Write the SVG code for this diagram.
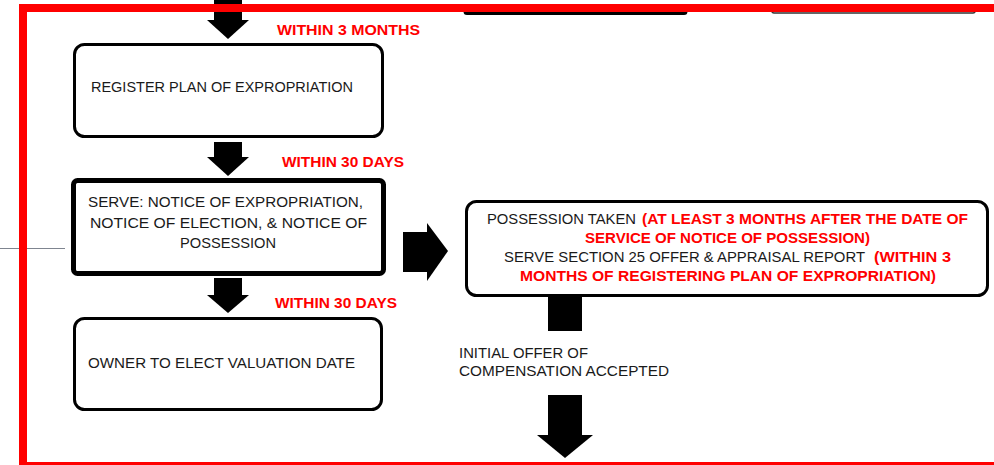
<svg xmlns="http://www.w3.org/2000/svg" width="994" height="465" viewBox="0 0 994 465">
  <style>
    .box { fill: #ffffff; stroke: #000000; stroke-width: 3; }
    .box-heavy { fill: #ffffff; stroke: #000000; stroke-width: 5; }
    .txt { font-family: "Liberation Sans", Arial, sans-serif; font-size: 15.5px; fill: #1a1a1a; }
    .due { font-family: "Liberation Sans", Arial, sans-serif; font-size: 15.5px; font-weight: bold; fill: #ff0000; }
    .arrow { fill: #000000; stroke: none; }
    .frame { fill: none; stroke: #ff0000; stroke-width: 8; }
  </style>

  <rect width="994" height="465" fill="#ffffff"/>

  <!-- side guide line -->
  <line x1="0" y1="248.5" x2="65" y2="248.5" stroke="#7f8590" stroke-width="1"/>

  <!-- boxes continuing from the previous stage (only bottoms visible) -->
  <g id="upper-left-box">
    <rect x="465" y="6" width="221" height="7.5" rx="2" fill="#ffffff" stroke="#000000" stroke-width="3"/>
  </g>
  <g id="upper-right-box">
    <rect x="772" y="6" width="203" height="7" rx="2" fill="#ffffff" stroke="#333333" stroke-width="1.5"/>
  </g>

  <!-- connectors -->
  <g id="connectors">
    <!-- into register plan -->
    <rect class="arrow" x="214" y="0" width="28" height="21"/>
    <polygon class="arrow" points="207,20 249,20 228,39"/>
    <!-- register plan to serve notices -->
    <rect class="arrow" x="214" y="142" width="28" height="16"/>
    <polygon class="arrow" points="207,157 249,157 228,176"/>
    <!-- serve notices to owner election -->
    <rect class="arrow" x="214" y="278" width="28" height="18"/>
    <polygon class="arrow" points="207,295 249,295 228,313"/>
    <!-- serve notices to possession -->
    <rect class="arrow" x="403" y="232" width="25" height="40"/>
    <polygon class="arrow" points="427,223 448,251 427,281"/>
    <!-- possession down to offer accepted -->
    <rect class="arrow" x="548" y="296" width="34" height="35"/>
    <!-- offer accepted onward -->
    <rect class="arrow" x="548" y="395" width="34" height="41"/>
    <polygon class="arrow" points="537,435 593,435 565,458"/>
  </g>

  <g id="register-plan">
    <rect class="box" x="74.5" y="44.5" width="308" height="92" rx="10"/>
    <text class="txt" x="91" y="92" textLength="262" lengthAdjust="spacingAndGlyphs">REGISTER PLAN OF EXPROPRIATION</text>
  </g>

  <g id="serve-notices">
    <rect class="box-heavy" x="73.5" y="180.5" width="310" height="93" rx="4"/>
    <text class="txt" x="88" y="207" textLength="275" lengthAdjust="spacingAndGlyphs">SERVE: NOTICE OF EXPROPRIATION,</text>
    <text class="txt" x="90" y="228" textLength="277" lengthAdjust="spacingAndGlyphs">NOTICE OF ELECTION, &amp; NOTICE OF</text>
    <text class="txt" x="180" y="248" textLength="96" lengthAdjust="spacingAndGlyphs">POSSESSION</text>
  </g>

  <g id="owner-election">
    <rect class="box" x="74.5" y="318.5" width="307" height="91" rx="10"/>
    <text class="txt" x="88" y="368" textLength="267" lengthAdjust="spacingAndGlyphs">OWNER TO ELECT VALUATION DATE</text>
  </g>

  <g id="possession-taken">
    <rect class="box" x="466.5" y="201.5" width="521" height="94" rx="10"/>
    <text class="txt" x="487" y="224" textLength="149" lengthAdjust="spacingAndGlyphs">POSSESSION TAKEN</text>
    <text class="due" x="642" y="224" textLength="326" lengthAdjust="spacingAndGlyphs">(AT LEAST 3 MONTHS AFTER THE DATE OF</text>
    <text class="due" x="585" y="243" textLength="285" lengthAdjust="spacingAndGlyphs">SERVICE OF NOTICE OF POSSESSION)</text>
    <text class="txt" x="504" y="262" textLength="361" lengthAdjust="spacingAndGlyphs">SERVE SECTION 25 OFFER &amp; APPRAISAL REPORT</text>
    <text class="due" x="874" y="262" textLength="77" lengthAdjust="spacingAndGlyphs">(WITHIN 3</text>
    <text class="due" x="520" y="281" textLength="416" lengthAdjust="spacingAndGlyphs">MONTHS OF REGISTERING PLAN OF EXPROPRIATION)</text>
  </g>

  <g id="offer-accepted">
    <text class="txt" x="459" y="358" textLength="129" lengthAdjust="spacingAndGlyphs">INITIAL OFFER OF</text>
    <text class="txt" x="459" y="376" textLength="210" lengthAdjust="spacingAndGlyphs">COMPENSATION ACCEPTED</text>
  </g>

  <!-- timing labels -->
  <g id="timing-labels">
    <text class="due" x="277" y="35" textLength="143" lengthAdjust="spacingAndGlyphs">WITHIN 3 MONTHS</text>
    <text class="due" x="282" y="167" textLength="122" lengthAdjust="spacingAndGlyphs">WITHIN 30 DAYS</text>
    <text class="due" x="275" y="308" textLength="122" lengthAdjust="spacingAndGlyphs">WITHIN 30 DAYS</text>
  </g>

  <!-- stage frame -->
  <rect class="frame" x="23" y="8" width="1000" height="458"/>
</svg>
